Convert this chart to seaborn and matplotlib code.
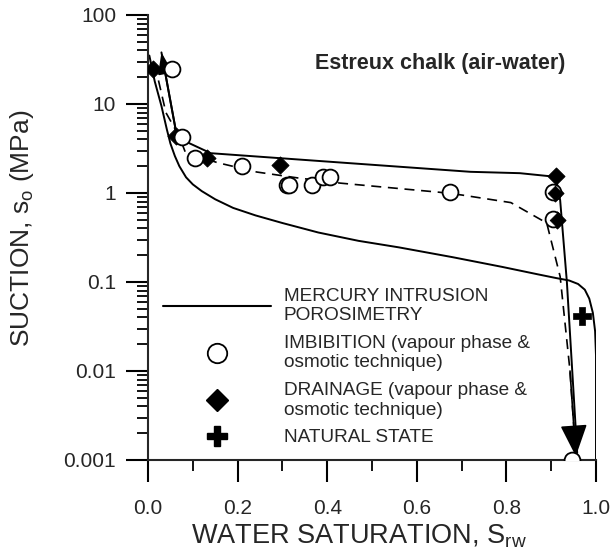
import numpy as np
import seaborn as sns
import matplotlib.pyplot as plt
from matplotlib.lines import Line2D
from matplotlib.ticker import LogLocator, NullFormatter, FixedLocator

# mercury intrusion porosimetry curve
mip_s = [0.003, 0.015, 0.03, 0.042, 0.05, 0.06, 0.07, 0.085, 0.1, 0.12, 0.15, 0.19, 0.24, 0.3,
         0.38, 0.47, 0.56, 0.68, 0.79, 0.87, 0.91, 0.94, 0.96, 0.975, 0.985, 0.993, 0.998, 1.0, 1.0]
mip_p = [35, 18, 9.5, 5.2, 3.6, 2.6, 2.0, 1.5, 1.25, 1.05, 0.85, 0.68, 0.56, 0.46,
         0.36, 0.29, 0.245, 0.19, 0.148, 0.122, 0.111, 0.104, 0.095, 0.082, 0.065, 0.045, 0.028, 0.015, 0.001]

# drainage path (solid)
dr_path_s = [0.958, 0.935, 0.92, 0.91, 0.83, 0.72, 0.43, 0.14, 0.065, 0.03]
dr_path_p = [0.0012, 0.1, 0.83, 1.52, 1.67, 1.73, 2.2, 2.8, 4.2, 38]

# imbibition path (dashed)
im_path_s = [0.015, 0.04, 0.07, 0.083, 0.154, 0.243, 0.333, 0.43, 0.65, 0.70, 0.81, 0.89, 0.92, 0.942, 0.955]
im_path_p = [28, 8, 4.3, 2.9, 2.2, 1.72, 1.48, 1.29, 1.02, 0.95, 0.78, 0.46, 0.115, 0.01, 0.0011]

# measured points
imb_s = [0.054, 0.076, 0.105, 0.21, 0.31, 0.315, 0.366, 0.39, 0.406, 0.674, 0.905, 0.905, 0.946]
imb_p = [25, 4.3, 2.5, 2.0, 1.23, 1.23, 1.23, 1.5, 1.5, 1.02, 1.02, 0.51, 0.001]
drn_s = [0.011, 0.062, 0.131, 0.295, 0.91, 0.908, 0.912]
drn_p = [25, 4.4, 2.5, 2.07, 1.55, 1.0, 0.5]
nat_s = [0.969]
nat_p = [0.041]

sns.set_style("ticks")
plt.rcParams['font.family'] = ['Liberation Sans', 'DejaVu Sans']
plt.rcParams['mathtext.fontset'] = 'custom'
plt.rcParams['mathtext.rm'] = 'Liberation Sans'

fig = plt.figure(figsize=(6.14, 5.54), dpi=100)
ax = fig.add_axes([148 / 614, 1 - 460 / 554, 448 / 614, 445 / 554])

sns.lineplot(x=mip_s, y=mip_p, sort=False, estimator=None, color='black', lw=1.4, ax=ax)
sns.lineplot(x=dr_path_s, y=dr_path_p, sort=False, estimator=None, color='black', lw=1.4, ax=ax)
sns.lineplot(x=im_path_s, y=im_path_p, sort=False, estimator=None, color='black', lw=1.2,
             linestyle=(0, (6, 4)), ax=ax)

# arrow heads at the ends of the paths
ax.annotate('', xy=(dr_path_s[-1], dr_path_p[-1]), xytext=(dr_path_s[-2], dr_path_p[-2]),
            arrowprops=dict(arrowstyle='-|>,head_length=1.3,head_width=0.45', color='black', lw=1.4,
                            shrinkA=0, shrinkB=0))
ax.annotate('', xy=(im_path_s[-1], im_path_p[-1]), xytext=(im_path_s[-2], im_path_p[-2]),
            arrowprops=dict(arrowstyle='-|>,head_length=2.0,head_width=0.85', color='black', lw=1.2,
                            shrinkA=0, shrinkB=0))

sns.scatterplot(x=drn_s, y=drn_p, marker='D', s=75, color='black', edgecolor='black', ax=ax, zorder=4)
sns.scatterplot(x=imb_s, y=imb_p, marker='o', s=130, facecolor='white', edgecolor='black',
                linewidth=1.3, ax=ax, zorder=5)
sns.scatterplot(x=drn_s[-3:], y=drn_p[-3:], marker='D', s=55, color='black', edgecolor='black',
                ax=ax, zorder=6)
sns.scatterplot(x=nat_s, y=nat_p, marker='P', s=170, color='black', edgecolor='black', linewidth=0.5,
                ax=ax, zorder=6)

ax.set_yscale('log')
ax.set_xlim(0, 1)
ax.set_ylim(0.001, 100)
ax.xaxis.set_major_locator(FixedLocator([0, 0.2, 0.4, 0.6, 0.8, 1.0]))
ax.xaxis.set_minor_locator(FixedLocator([0.1, 0.3, 0.5, 0.7, 0.9]))
ax.set_xticklabels(['0.0', '0.2', '0.4', '0.6', '0.8', '1.0'])
ax.yaxis.set_major_locator(FixedLocator([0.001, 0.01, 0.1, 1, 10, 100]))
ax.set_yticklabels(['0.001', '0.01', '0.1', '1', '10', '100'])
ax.yaxis.set_minor_locator(LogLocator(base=10, subs=np.arange(2, 10)))
ax.yaxis.set_minor_formatter(NullFormatter())

sns.despine(ax=ax)
for sp in ['left', 'bottom']:
    ax.spines[sp].set_linewidth(1.5)
ax.tick_params(which='major', length=16, width=1.5, labelsize=15, color='black')
ax.tick_params(which='minor', length=8, width=1.3, color='black')
ax.tick_params(axis='x', which='major', pad=12)
ax.tick_params(axis='y', which='major', pad=7)

ax.set_xlabel(r'WATER SATURATION, S$_\mathregular{rw}$', fontsize=19.5)
ax.set_ylabel(r'SUCTION, s$_\mathregular{o}$ (MPa)', fontsize=19)
ax.xaxis.set_label_coords(0.47, -0.14)
ax.yaxis.set_label_coords(-0.25, 0.52)

ax.text(0.653, 0.892, 'Estreux chalk (air-water)', transform=ax.transAxes, ha='center', va='center',
        fontsize=15.5, fontweight='bold')

handles = [
    Line2D([], [], color='black', lw=1.5),
    Line2D([], [], marker='o', ls='none', ms=14, mfc='white', mec='black', mew=1.3),
    Line2D([], [], marker='D', ls='none', ms=11, color='black'),
    Line2D([], [], marker='P', ls='none', ms=14, color='black'),
]
labels = ['MERCURY INTRUSION\nPOROSIMETRY',
          'IMBIBITION (vapour phase &\nosmotic technique)',
          'DRAINAGE (vapour phase &\nosmotic technique)',
          'NATURAL STATE']
ax.legend(handles, labels, loc='upper left', bbox_to_anchor=(0.033, 0.387), frameon=False,
          fontsize=13.7, handlelength=5.7, handletextpad=0.65, borderpad=0, borderaxespad=0,
          labelspacing=0.55)

plt.savefig('out.png', dpi=100)
